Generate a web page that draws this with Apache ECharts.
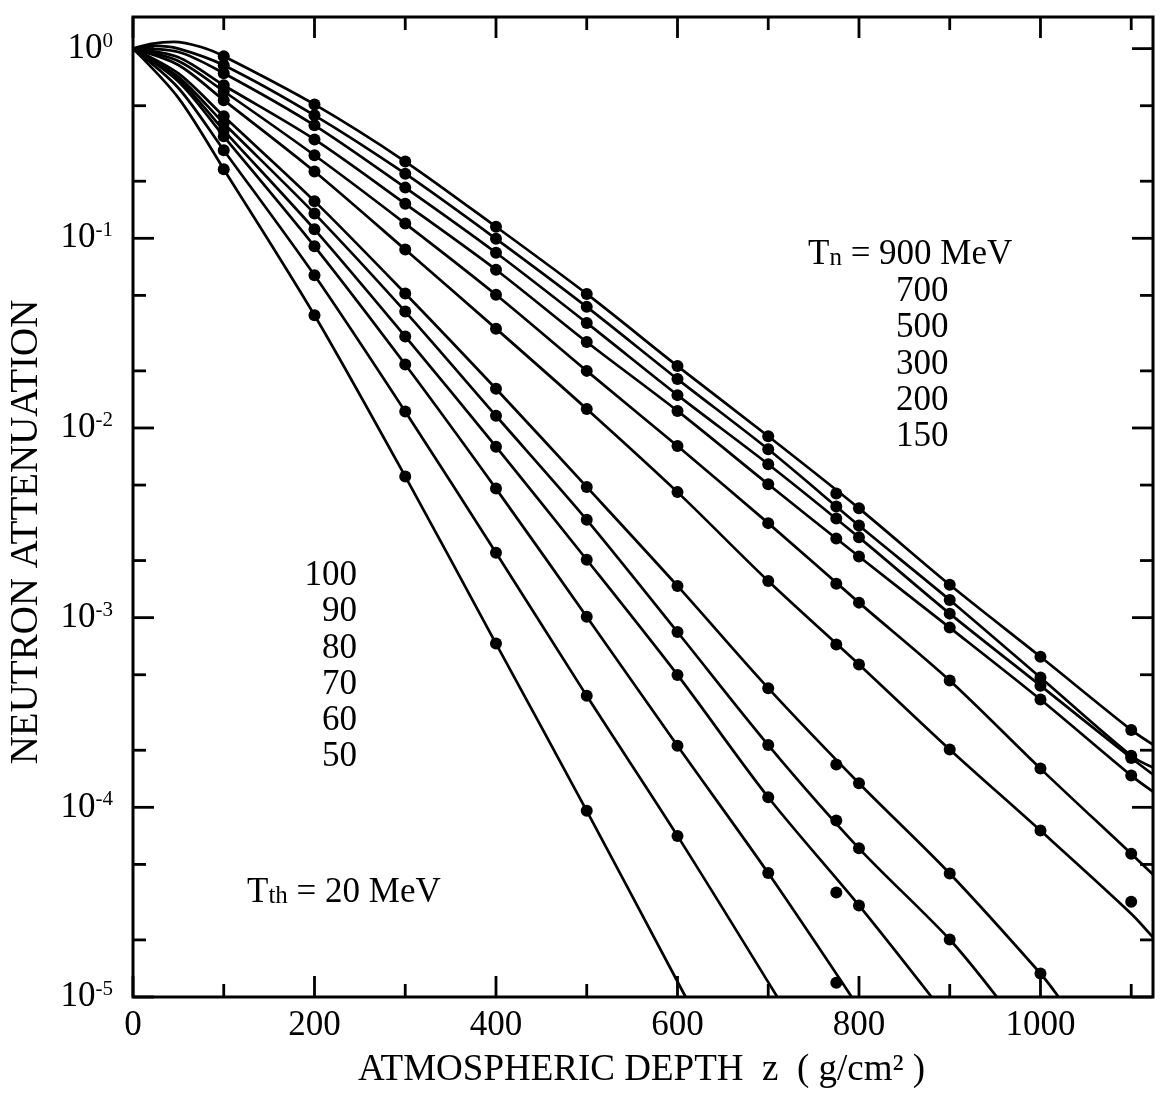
<!DOCTYPE html>
<html><head><meta charset="utf-8">
<script src="https://cdn.jsdelivr.net/npm/echarts@6/dist/echarts.min.js"></script>
<style>html,body{margin:0;padding:0;background:#fff}#c{width:1162px;height:1095px}</style>
</head><body><div id="c"></div>
<script>
// ---- data ----
const DEPTHS = [100, 200, 300, 400, 500, 600, 700, 775, 800, 900, 1000, 1100];
const ENERGIES = ['900', '700', '500', '300', '200', '150', '100', '90', '80', '70', '60', '50'];

// measured points (null = no point)
const DOTS_900 = [0.912, 0.508, 0.254, 0.115, 0.0509, 0.0212, 0.00904, 0.00451, 0.00377, 0.00149, 6.22e-4, 2.56e-4];
const DOTS_700 = [0.818, 0.445, 0.219, 0.0994, 0.0435, 0.0181, 0.00772, 0.00385, 0.00306, 0.00124, 4.83e-4, 1.87e-4];
const DOTS_500 = [0.742, 0.394, 0.185, 0.0839, 0.0358, 0.0149, 0.00644, 0.00333, 0.00265, 0.00105, 4.38e-4, 1.82e-4];
const DOTS_300 = [0.641, 0.332, 0.152, 0.0683, 0.0284, 0.0123, 0.00505, 0.00261, 0.00210, 8.86e-4, 3.70e-4, 1.47e-4];
const DOTS_200 = [0.596, 0.274, 0.1196, 0.0504, 0.0200, 0.00803, 0.00315, 0.00151, 0.00120, 4.66e-4, 1.60e-4, 5.69e-5];
const DOTS_150 = [0.535, 0.225, 0.0872, 0.0334, 0.0126, 0.00459, 0.00156, 7.21e-4, 5.67e-4, 2.02e-4, 7.54e-5, 3.18e-5];
const DOTS_100 = [0.440, 0.157, 0.0512, 0.0161, 0.00489, 0.00147, 4.25e-4, 1.68e-4, 1.34e-4, 4.48e-5, 1.33e-5, null];
const DOTS_90  = [0.404, 0.135, 0.0411, 0.0116, 0.00328, 8.40e-4, 2.13e-4, 8.51e-5, 6.08e-5, 2.01e-5, null, null];
const DOTS_80  = [0.371, 0.1115, 0.0304, 0.00797, 0.00202, 4.99e-4, 1.13e-4, 3.56e-5, 3.04e-5, null, null, null];
const DOTS_70  = [0.345, 0.0907, 0.0216, 0.00479, 0.00101, 2.11e-4, 4.50e-5, 1.19e-5, null, null, null, null];
const DOTS_60  = [0.2915, 0.0638, 0.0122, 0.00220, 3.87e-4, 7.07e-5, null, null, null, null, null, null];
const DOTS_50  = [0.2314, 0.0393, 0.00555, 7.30e-4, 9.59e-5, null, null, null, null, null, null, null];

// calculated curves: [depth, attenuation]
const CURVE_900 = [[0,1],[20,1.06],[45,1.085],[75,1.02],[100,0.912],[200,0.508],[300,0.254],[400,0.115],[500,0.0509],[600,0.0212],[700,0.00904],[800,0.00377],[900,0.00149],[1000,6.22e-4],[1100,2.56e-4],[1124,2.14e-4]];
const CURVE_700 = [[0,1],[25,1.035],[50,1.0],[100,0.818],[200,0.445],[300,0.219],[400,0.0994],[500,0.0435],[600,0.0181],[700,0.00772],[800,0.00306],[900,0.00124],[1000,4.83e-4],[1100,1.87e-4],[1124,1.62e-4]];
const CURVE_500 = [[0,1],[50,0.96],[100,0.742],[200,0.394],[300,0.185],[400,0.0839],[500,0.0358],[600,0.0149],[700,0.00644],[800,0.00265],[900,0.00105],[1000,4.38e-4],[1100,1.82e-4],[1124,1.49e-4]];
const CURVE_300 = [[0,1],[50,0.90],[100,0.641],[200,0.332],[300,0.152],[400,0.0683],[500,0.0284],[600,0.0123],[700,0.00505],[800,0.00210],[900,8.86e-4],[1000,3.70e-4],[1100,1.47e-4],[1124,1.21e-4]];
const CURVE_200 = [[0,1],[50,0.86],[100,0.596],[200,0.274],[300,0.1196],[400,0.0504],[500,0.0200],[600,0.00803],[700,0.00315],[800,0.00120],[900,4.66e-4],[1000,1.60e-4],[1100,5.69e-5],[1124,4.42e-5]];
const CURVE_150 = [[0,1],[50,0.82],[100,0.535],[200,0.225],[300,0.0872],[400,0.0334],[500,0.0126],[600,0.00459],[700,0.00156],[800,5.67e-4],[900,2.02e-4],[1000,7.54e-5],[1100,2.75e-5],[1124,2.06e-5]];
const CURVE_100 = [[0,1],[50,0.74],[100,0.440],[200,0.157],[300,0.0512],[400,0.0161],[500,0.00489],[600,0.00147],[700,4.25e-4],[800,1.34e-4],[900,4.48e-5],[1000,1.33e-5],[1020,1e-5]];
const CURVE_90  = [[0,1],[50,0.71],[100,0.404],[200,0.135],[300,0.0411],[400,0.0116],[500,0.00328],[600,8.40e-4],[700,2.13e-4],[800,6.08e-5],[900,2.01e-5],[952,1e-5]];
const CURVE_80  = [[0,1],[50,0.69],[100,0.371],[200,0.1115],[300,0.0304],[400,0.00797],[500,0.00202],[600,4.99e-4],[700,1.13e-4],[800,3.04e-5],[880,1e-5]];
const CURVE_70  = [[0,1],[50,0.67],[100,0.345],[200,0.0907],[300,0.0216],[400,0.00479],[500,0.00101],[600,2.11e-4],[700,4.50e-5],[792,1e-5]];
const CURVE_60  = [[0,1],[50,0.62],[100,0.2915],[200,0.0638],[300,0.0122],[400,0.00220],[500,3.87e-4],[600,7.07e-5],[710,1e-5]];
const CURVE_50  = [[0,1],[50,0.55],[100,0.2314],[200,0.0393],[300,0.00555],[400,7.30e-4],[500,9.59e-5],[609,1e-5]];

const X_TICKS_MAJOR = [0, 200, 400, 600, 800, 1000];
const X_TICKS_MINOR = [100, 300, 500, 700, 900, 1100];
const Y_TICKS_MAJOR = [1e-5, 1e-4, 1e-3, 1e-2, 1e-1, 1];
const Y_TICKS_MINOR = [2e-5, 5e-5, 2e-4, 5e-4, 2e-3, 5e-3, 2e-2, 5e-2, 2e-1, 5e-1];

const X_MIN = 0, X_MAX = 1124, Y_MIN = 1e-5, Y_MAX = 1.468;

const UPPER_LABELS = ['700', '500', '300', '200', '150'];
const LOWER_LABELS = ['100', '90', '80', '70', '60', '50'];

const DOTS = [DOTS_900, DOTS_700, DOTS_500, DOTS_300, DOTS_200, DOTS_150, DOTS_100, DOTS_90, DOTS_80, DOTS_70, DOTS_60, DOTS_50];
const CURVES = [CURVE_900, CURVE_700, CURVE_500, CURVE_300, CURVE_200, CURVE_150, CURVE_100, CURVE_90, CURVE_80, CURVE_70, CURVE_60, CURVE_50];

// ---- chart ----
const FONT = '"Liberation Serif", "DejaVu Serif", serif';
const chart = echarts.init(document.getElementById('c'), null, {renderer: 'canvas'});

const series = [];
CURVES.forEach((c, i) => {
  series.push({
    type: 'line', name: 'Tn ' + ENERGIES[i], data: c, smooth: 0.3, showSymbol: false,
    lineStyle: {color: '#000', width: 2.7}, silent: true, animation: false, z: 3
  });
  series.push({
    type: 'scatter', name: 'Tn ' + ENERGIES[i] + ' pts',
    data: DEPTHS.map((d, k) => DOTS[i][k] == null ? null : [d, DOTS[i][k]]).filter(Boolean),
    symbolSize: 12, itemStyle: {color: '#000', opacity: 1}, silent: true, animation: false, z: 4
  });
});

// tick marks drawn through the axes' scales: [x, y, length, side]
const tickData = [];
X_TICKS_MAJOR.forEach(v => { tickData.push([v, Y_MIN, 21, 2]); tickData.push([v, Y_MAX, 21, 3]); });
X_TICKS_MINOR.forEach(v => { tickData.push([v, Y_MIN, 13, 2]); tickData.push([v, Y_MAX, 13, 3]); });
Y_TICKS_MAJOR.forEach(v => { tickData.push([X_MIN, v, 21, 0]); tickData.push([X_MAX, v, 21, 1]); });
Y_TICKS_MINOR.forEach(v => { tickData.push([X_MIN, v, 13, 0]); tickData.push([X_MAX, v, 13, 1]); });

series.push({
  type: 'custom', data: tickData, silent: true, animation: false, z: 5,
  encode: {x: 0, y: 1},
  renderItem: function (params, api) {
    const p = api.coord([api.value(0), api.value(1)]);
    const len = api.value(2), side = api.value(3);
    let x2 = p[0], y2 = p[1];
    if (side === 0) x2 += len; else if (side === 1) x2 -= len; else if (side === 2) y2 -= len; else y2 += len;
    return {type: 'line', shape: {x1: p[0], y1: p[1], x2: x2, y2: y2}, style: {stroke: '#000', lineWidth: 2.8}};
  }
});

function txt(x, y, s, size, align) {
  return {type: 'text', x: x, y: y, style: {text: s, font: size + 'px ' + FONT, fill: '#000', align: align || 'left', verticalAlign: 'middle'}};
}
// big letter + smaller baseline-aligned letters + rest
function subLabel(x, y, big, small, rest, size, smallSize) {
  const wBig = 0.611 * size;
  const wSmall = (small === 'n' ? 0.5 : 0.778) * smallSize;
  const dy = 0.34 * (size - smallSize);
  return [
    txt(x, y, big, size),
    txt(x + wBig, y + dy, small, smallSize),
    txt(x + wBig + wSmall, y, rest, size)
  ];
}

const graphics = [];
graphics.push(txt(358, 1070, 'ATMOSPHERIC DEPTH  z  ( g/cm\u00B2 )', 37));
graphics.push({type: 'text', x: 27, y: 532, rotation: Math.PI / 2,
  style: {text: 'NEUTRON ATTENUATION', font: '39px ' + FONT, fill: '#000', align: 'center', verticalAlign: 'middle'}});
subLabel(808, 255, 'T', 'n', ' = 900 MeV', 35, 25).forEach(g => graphics.push(g));
UPPER_LABELS.forEach((s, i) => graphics.push(txt(896, 292 + i * 36.3, s, 35)));
LOWER_LABELS.forEach((s, i) => graphics.push(txt(357, 576 + i * 36.2, s, 35, 'right')));
subLabel(247, 893, 'T', 'th', ' = 20 MeV', 35, 25).forEach(g => graphics.push(g));

const option = {
  backgroundColor: '#fff',
  animation: false,
  grid: {left: 133, right: 9, top: 17, bottom: 98, show: true, borderColor: '#000', borderWidth: 3, backgroundColor: 'transparent'},
  xAxis: {
    type: 'value', min: X_MIN, max: X_MAX, interval: 200,
    axisLine: {show: false}, axisTick: {show: false}, splitLine: {show: false},
    axisLabel: {
      margin: 11, color: '#000', fontFamily: FONT, fontSize: 35,
      formatter: v => (v % 200 === 0 && v <= 1000) ? String(v) : ''
    }
  },
  yAxis: {
    type: 'log', logBase: 10, min: Y_MIN, max: Y_MAX,
    axisLine: {show: false}, axisTick: {show: false}, splitLine: {show: false},
    axisLabel: {
      margin: 20, color: '#000',
      formatter: v => {
        const e = Math.log10(v);
        const r = Math.round(e);
        if (Math.abs(e - r) > 1e-6) return '';
        return '{b|10}{s|' + (r === 0 ? '0' : String(r)) + '}';
      },
      rich: {
        b: {fontFamily: FONT, fontSize: 35, color: '#000', lineHeight: 36},
        s: {fontFamily: FONT, fontSize: 21, color: '#000', verticalAlign: 'top', lineHeight: 22}
      }
    }
  },
  series: series,
  graphic: graphics
};
chart.setOption(option);
</script>
</body></html>
